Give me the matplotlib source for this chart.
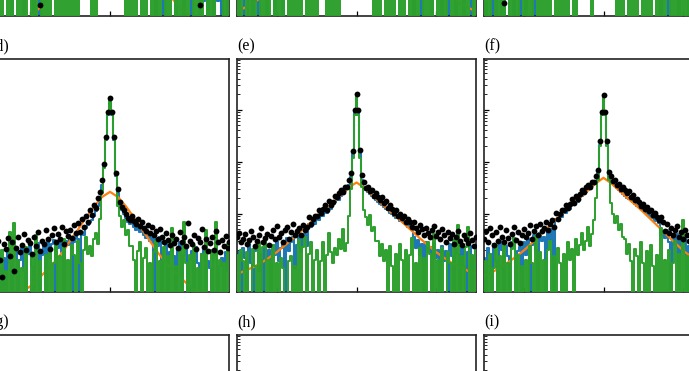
import numpy as np
import matplotlib
matplotlib.use('Agg')
import matplotlib.pyplot as plt
from matplotlib.ticker import LogLocator, NullFormatter, FixedLocator

plt.rcParams['font.family'] = ['Liberation Serif', 'DejaVu Serif']

# ---------------- data ----------------
N = 121
X = np.linspace(-1.5, 1.5, N)          # sample positions of the measured series
X_FIT = np.linspace(-1.5, 1.5, 31)     # sample positions of the fitted curve
X_TICKS = [-1, 0, 1]
YLIM = (0.31, 9500)

# panel labels; the top row's labels lie above the visible crop
LABELS = [[None, None, None], ['(d)', '(e)', '(f)'], ['(g)', '(h)', '(i)']]

# ---- panel (a) ----
A_DOTS = [1.4, 2.0, 1.1, 1.7, 2.4, 1.3, 1.9, 1.2, 2.2, 1.6,
          2.6, 1.5, 2.1, 1.8, 2.9, 1.4, 2.3, 2.7, 1.7, 3.0,
          2.0, 2.8, 3.3, 1.9, 2.5, 0.5, 3.1, 2.4, 3.6, 2.9,
          3.4, 4.0, 2.8, 3.7, 4.4, 3.2, 4.9, 4.1, 5.4, 4.6,
          6.0, 5.2, 6.8, 7.6, 6.4, 8.6, 10.0, 11.5, 13.5, 16.5,
          20, 24, 30, 38, 48, 62, 85, 140, 380, 950,
          1700,
          950, 380, 140, 85, 60, 46, 36, 28, 23, 19.0,
          15.5, 12.5, 10.5, 9.0, 7.6, 6.6, 5.8, 5.0, 4.4, 3.9,
          3.5, 4.2, 3.0, 3.7, 2.6, 3.3, 2.4, 2.9, 2.2, 2.7,
          2.0, 2.5, 1.8, 2.3, 1.6, 2.1, 1.5, 2.4, 1.7, 1.3,
          2.0, 1.6, 1.2, 1.9, 0.5, 1.5, 2.2, 1.4, 1.8, 1.1,
          1.7, 2.1, 1.3, 1.6, 1.0, 1.9, 1.4, 1.2, 1.8, 1.5]
A_BLUE = [1.2, 0.9, 1.6, 1.1, 0, 1.4, 1.8, 1.0, 1.5, 2.0,
          1.3, 0, 1.7, 2.2, 1.4, 1.9, 2.5, 0, 1.8, 2.1,
          2.7, 1.6, 0, 2.3, 2.9, 0, 2.6, 3.2, 2.1, 3.5,
          2.8, 3.8, 3.1, 4.2, 3.4, 4.6, 3.9, 5.0, 4.4, 5.6,
          5.0, 6.2, 5.6, 7.0, 6.4, 8.0, 9.0, 10.5, 12.5, 15.0,
          18.0, 22.0, 27.0, 34.0, 44.0, 58.0, 80.0, 130, 350, 900,
          1600,
          900, 350, 130, 78, 55, 42, 33, 26, 21, 17.0,
          14.0, 11.5, 9.5, 8.0, 6.8, 5.8, 5.0, 4.3, 3.7, 3.2,
          2.9, 2.5, 0, 2.1, 1.9, 1.6, 0, 1.4, 1.2, 1.3,
          1.0, 1.1, 0, 0.9, 1.2, 0.8, 0, 1.0, 0.7, 0.9,
          0, 0.8, 1.1, 0.7, 0, 0.9, 0.6, 1.0, 0, 0.8,
          0.7, 0, 0.9, 0.6, 0.8, 0, 1.0, 0.7, 0, 0.9]
A_GREEN = [0, 1.5, 0, 0, 2.0, 0, 1.2, 0, 0, 2.4,
           0, 1.8, 0, 0, 1.4, 0, 2.6, 0, 1.6, 0,
           0, 2.2, 0, 1.3, 0, 0, 1.9, 0, 2.8, 0,
           1.5, 0, 0, 2.3, 0, 1.7, 0, 3.0, 0, 1.4,
           0, 2.0, 0, 1.6, 0, 2.5, 3.2, 1.8, 2.7, 1.5,
           2.1, 0, 3.4, 0, 2.6, 4.0, 6.0, 20, 150, 700,
           1500,
           700, 150, 22, 7.0, 4.5, 3.2, 2.4, 0, 1.9, 0,
           2.5, 0, 1.4, 0, 0, 2.2, 0, 1.7, 0, 0,
           1.6, 0, 2.4, 0, 1.3, 0, 0, 2.0, 0, 1.5,
           0, 0, 2.7, 0, 1.8, 0, 1.2, 0, 2.3, 0,
           0, 1.6, 0, 2.0, 0, 1.4, 0, 0, 2.9, 0,
           1.5, 0, 2.2, 1.8, 2.6, 1.9, 0, 1.4, 0, 2.0]
A_FIT = [0.09, 0.11, 0.13, 0.17, 0.22, 0.30, 0.42, 0.62, 1.0, 1.7, 2.9, 5.0, 8.5, 14, 22, 30,
         22, 14, 8.5, 5.0, 2.9, 1.7, 1.0, 0.62, 0.42, 0.30, 0.22, 0.17, 0.13, 0.11, 0.09]

# ---- panel (b) ----
B_DOTS = [2.2, 1.6, 2.9, 1.9, 2.5, 1.4, 2.1, 3.0, 1.8, 2.6,
          1.7, 2.4, 3.2, 2.0, 2.8, 2.3, 3.5, 1.9, 2.7, 3.1,
          2.5, 3.8, 2.9, 3.3, 4.2, 2.7, 3.9, 3.4, 4.6, 3.7,
          4.3, 5.0, 3.9, 4.8, 5.6, 4.5, 6.2, 5.3, 6.8, 6.0,
          7.4, 6.6, 8.3, 9.4, 8.5, 10.5, 12.0, 13.5, 16.0, 19.0,
          23, 27, 33, 40, 50, 64, 88, 150, 400, 1000,
          1800,
          1000, 400, 150, 88, 62, 48, 39, 31, 26, 22,
          18.5, 15.5, 13.0, 11.0, 9.6, 8.4, 7.4, 6.6, 5.8, 5.2,
          4.7, 5.4, 4.0, 4.6, 3.6, 4.2, 3.2, 3.8, 2.9, 3.4,
          2.6, 3.1, 2.4, 2.9, 2.1, 2.7, 3.2, 2.0, 2.5, 1.8,
          2.3, 2.8, 1.7, 2.2, 1.9, 2.6, 1.6, 2.1, 2.4, 1.5,
          2.0, 1.7, 2.5, 1.4, 1.9, 2.2, 1.6, 1.8, 1.3, 2.1]
B_BLUE = [1.5, 0, 1.9, 1.2, 0, 0, 1.6, 2.1, 0, 1.4,
          1.8, 0, 2.3, 1.5, 2.0, 0, 1.7, 2.5, 1.3, 0,
          2.2, 1.9, 2.8, 0, 2.4, 3.0, 2.1, 2.7, 3.4, 2.6,
          3.2, 3.8, 2.9, 3.6, 4.3, 3.4, 4.8, 4.1, 5.4, 4.7,
          5.9, 5.3, 6.7, 7.5, 6.9, 8.6, 9.8, 11.0, 13.0, 15.5,
          19, 23, 28, 34, 43, 56, 78, 135, 370, 900,
          1650,
          900, 370, 135, 78, 54, 42, 33, 27, 22, 18.5,
          15.5, 13.0, 11.0, 9.4, 8.1, 7.1, 6.2, 5.5, 4.9, 4.3,
          3.9, 4.4, 3.3, 3.8, 2.9, 3.4, 2.6, 3.0, 0, 2.7,
          2.1, 2.5, 0, 2.2, 1.7, 2.0, 2.4, 0, 1.9, 1.5,
          1.8, 2.2, 0, 1.6, 1.4, 0, 1.3, 1.7, 1.9, 0,
          1.5, 1.2, 1.8, 0, 1.4, 1.6, 1.1, 0, 1.0, 1.3]
B_GREEN = [1.8, 0, 2.4, 0, 0, 1.5, 0, 2.1, 0, 1.3,
           0, 0, 2.6, 0, 1.7, 0, 2.0, 0, 0, 1.4,
           0, 2.3, 0, 1.6, 0, 0, 2.8, 0, 1.5, 0,
           2.2, 0, 1.4, 0, 0, 2.5, 0, 1.9, 0, 1.3,
           0, 2.4, 2.9, 1.7, 3.1, 0, 2.0, 0, 2.6, 0,
           1.8, 0, 3.3, 2.5, 4.2, 3.0, 6.5, 24, 160, 750,
           1600,
           750, 160, 26, 8.0, 4.6, 3.5, 5.0, 2.7, 0, 1.9,
           0, 2.4, 0, 0, 1.6, 0, 2.8, 0, 1.5, 0,
           0, 2.1, 0, 1.7, 0, 0, 2.5, 0, 1.4, 0,
           1.9, 0, 0, 2.6, 0, 1.5, 0, 2.2, 0, 0,
           1.8, 0, 2.4, 0, 1.3, 0, 0, 2.0, 0, 1.6,
           0, 2.7, 0, 1.4, 0, 2.1, 0, 0, 1.7, 0]
B_FIT = [0.38, 0.45, 0.55, 0.70, 0.92, 1.25, 1.75, 2.5, 3.6, 5.2, 7.4, 10.5, 15, 21, 30, 38,
         30, 21, 15, 10.5, 7.4, 5.2, 3.6, 2.5, 1.75, 1.25, 0.92, 0.70, 0.55, 0.45, 0.38]

# ---- panel (c) ----
C_DOTS = [2.4, 1.8, 3.0, 2.1, 2.7, 1.6, 2.3, 3.2, 1.9, 2.8,
          0.55, 2.5, 3.4, 2.2, 3.0, 2.6, 3.7, 2.1, 2.9, 3.3,
          2.7, 4.0, 3.1, 3.5, 4.4, 2.9, 4.1, 3.6, 4.8, 3.9,
          4.5, 5.2, 4.1, 5.0, 5.9, 4.7, 6.5, 5.6, 7.1, 6.3,
          7.8, 7.0, 8.8, 9.9, 9.0, 11.0, 12.5, 14.0, 17.0, 20,
          24, 28, 35, 42, 52, 67, 92, 155, 410, 1050,
          1900,
          1050, 410, 155, 92, 65, 50, 41, 33, 27, 23,
          19.5, 16.5, 14.0, 12.0, 10.2, 8.9, 7.8, 6.9, 6.1, 5.5,
          5.0, 5.6, 4.3, 4.9, 3.8, 4.4, 3.4, 4.0, 3.1, 3.6,
          2.8, 3.3, 2.6, 3.0, 2.3, 2.9, 3.4, 2.2, 2.7, 2.0,
          2.5, 3.0, 1.9, 2.4, 2.1, 2.8, 1.8, 2.3, 2.6, 1.7,
          2.2, 1.9, 2.7, 1.6, 2.1, 2.4, 1.8, 2.0, 1.5, 2.3]
C_BLUE = [1.6, 0, 2.0, 1.3, 0, 1.8, 0, 2.3, 1.5, 0,
          1.9, 0, 0, 1.7, 2.2, 0, 1.4, 2.6, 0, 1.8,
          2.4, 0, 2.9, 2.0, 2.6, 0, 2.3, 2.8, 3.5, 2.7,
          3.3, 3.9, 3.0, 3.7, 4.4, 3.5, 4.9, 4.2, 5.5, 4.8,
          6.0, 5.4, 6.8, 7.7, 7.0, 8.8, 10.0, 11.5, 13.5, 16.0,
          20, 24, 29, 35, 45, 58, 80, 140, 380, 950,
          1700,
          950, 380, 140, 80, 56, 43, 35, 28, 23, 19.5,
          16.5, 13.5, 11.5, 9.8, 8.4, 7.3, 6.4, 5.7, 5.0, 4.5,
          4.0, 4.6, 3.4, 3.9, 3.0, 3.5, 2.7, 3.1, 0, 2.8,
          2.2, 2.6, 0, 2.3, 1.8, 2.1, 2.5, 0, 2.0, 1.6,
          1.9, 2.3, 0, 1.7, 1.5, 0, 1.4, 1.8, 2.0, 0,
          1.6, 1.3, 1.9, 0, 1.5, 1.7, 1.2, 0, 1.1, 1.4]
C_GREEN = [0, 1.6, 0, 2.2, 0, 0, 1.4, 0, 2.5, 0,
           1.8, 0, 0, 2.0, 0, 1.5, 0, 2.7, 0, 0,
           1.3, 0, 2.3, 0, 1.7, 0, 0, 2.1, 0, 1.6,
           0, 2.6, 0, 1.4, 0, 0, 2.4, 0, 1.9, 0,
           1.5, 0, 2.2, 0, 0, 1.8, 0, 2.6, 3.0, 2.2,
           3.4, 2.0, 2.8, 2.4, 0, 4.5, 7.0, 26, 170, 780,
           1650,
           780, 170, 24, 9.0, 5.0, 3.6, 0, 2.3, 0, 1.7,
           0, 0, 2.5, 0, 1.5, 0, 2.0, 0, 0, 1.4,
           0, 2.6, 0, 1.8, 0, 0, 2.2, 0, 1.5, 0,
           2.4, 0, 0, 1.7, 0, 2.1, 0, 1.3, 0, 2.8,
           0, 1.6, 0, 0, 2.3, 0, 1.9, 0, 1.4, 0,
           2.0, 0, 0, 1.7, 0, 2.5, 0, 1.5, 0, 2.2]
C_FIT = [0.6, 0.7, 0.82, 1.0, 1.3, 1.75, 2.4, 3.4, 4.7, 6.6, 9.3, 13, 18, 25, 35, 45,
         35, 25, 18, 13, 9.3, 6.6, 4.7, 3.4, 2.4, 1.75, 1.3, 1.0, 0.82, 0.7, 0.6]

# ---- panel (d) ----
D_DOTS = [1.6, 2.4, 0.7, 1.9, 3.0, 1.3, 0.6, 2.6, 2.1, 3.4,
          1.5, 2.8, 0.8, 2.2, 3.6, 1.8, 2.5, 4.0, 2.0, 3.1,
          2.7, 1.7, 3.5, 2.4, 4.4, 1.9, 3.0, 2.6, 4.8, 3.3,
          2.1, 3.8, 5.2, 2.9, 4.1, 3.2, 5.5, 2.6, 4.6, 3.7,
          4.9, 3.4, 6.0, 4.2, 6.5, 4.4, 7.8, 5.6, 9.2, 7.0,
          11.5, 9.5, 14.5, 13.0, 20.0, 26.0, 45.0, 90, 300, 900,
          1700,
          900, 300, 60, 30, 17, 13.5, 11.5, 10.0, 8.2, 7.6,
          9.0, 7.2, 6.4, 7.8, 5.9, 6.8, 5.2, 4.7, 6.1, 4.3,
          5.5, 3.9, 4.6, 3.3, 5.0, 3.6, 2.9, 4.2, 3.1, 2.5,
          3.8, 2.7, 3.3, 2.2, 4.4, 2.9, 3.6, 2.4, 6.5, 3.0,
          2.6, 3.9, 2.1, 3.4, 2.8, 5.0, 2.3, 3.2, 1.9, 2.7,
          3.5, 2.0, 4.6, 2.8, 1.8, 3.1, 2.4, 3.7, 2.2, 2.9]
D_BLUE = [0, 1.2, 0.6, 0, 1.6, 0.9, 0, 1.4, 0, 1.9,
          1.1, 0, 1.5, 2.0, 0, 1.3, 2.2, 0.8, 0, 1.7,
          2.4, 1.0, 0, 1.9, 2.7, 0, 1.6, 2.3, 0, 2.9,
          1.4, 2.6, 3.1, 0, 2.2, 3.4, 1.8, 0, 3.0, 2.5,
          3.6, 0, 2.8, 4.0, 3.3, 0, 4.5, 3.8, 5.2, 6.0,
          6.8, 7.5, 9.0, 11.0, 14.0, 20.0, 36.0, 80, 260, 800,
          1500,
          800, 260, 52, 25, 15.0, 11.5, 9.8, 8.4, 7.0, 6.2,
          6.8, 5.5, 4.9, 5.9, 4.4, 5.0, 3.8, 3.4, 4.3, 3.0,
          3.9, 0, 3.2, 2.4, 3.5, 0, 2.1, 2.9, 0, 1.8,
          2.6, 1.5, 0, 2.0, 2.8, 0, 1.6, 2.2, 0, 1.3,
          1.9, 0, 2.3, 1.1, 0, 1.7, 2.0, 0, 1.2, 0.9,
          0, 1.6, 2.1, 0, 1.0, 1.4, 0, 1.8, 0.8, 0]
D_GREEN = [0, 1.0, 0, 1.5, 0, 0, 2.0, 0, 0.8, 0,
           4.4, 0, 6.5, 0, 1.3, 0, 0.9, 0, 2.3, 0,
           0, 1.7, 0, 3.8, 0, 1.2, 0, 0, 1.6, 0,
           2.1, 0, 1.1, 2.8, 0, 1.5, 0, 3.3, 0, 1.3,
           0, 2.5, 1.6, 0, 3.0, 1.1, 0, 2.0, 3.6, 1.7,
           2.4, 1.5, 3.2, 4.3, 2.6, 8.0, 25.0, 75, 280, 850,
           1600,
           850, 280, 55, 14, 9.0, 5.5, 7.5, 3.8, 4.8, 2.4,
           2.4, 1.3, 0, 1.9, 2.8, 0, 1.4, 2.2, 0, 1.1,
           0, 1.8, 3.0, 0, 1.2, 0, 2.3, 0, 1.5, 0,
           5.2, 0, 1.0, 0, 1.9, 0, 7.0, 1.1, 0, 1.6,
           0, 2.4, 0, 0.9, 0, 1.7, 0, 4.8, 0, 0,
           2.0, 0, 6.8, 0, 1.3, 0, 1.1, 0, 2.6, 0]
D_FIT = [0.17, 0.19, 0.22, 0.26, 0.32, 0.40, 0.56, 0.79, 1.15, 1.78, 3.0, 5.0, 8.5, 13.8, 20.9, 26.3,
         20.9, 13.8, 8.5, 5.0, 3.0, 1.78, 1.15, 0.79, 0.56, 0.40, 0.32, 0.26, 0.22, 0.19, 0.17]

# ---- panel (e) ----
E_DOTS = [3.6, 4.3, 2.9, 3.3, 4.0, 2.6, 3.1, 4.6, 3.5, 2.4,
          3.0, 3.9, 5.2, 2.8, 3.4, 4.1, 2.5, 3.7, 4.8, 3.2,
          5.8, 3.6, 4.2, 2.9, 4.9, 5.5, 3.3, 4.4, 6.2, 3.9,
          4.6, 5.3, 3.8, 6.0, 4.9, 5.6, 8.8, 6.4, 8.0, 9.0,
          9.2, 11.5, 10.2, 12.5, 14.5, 12.0, 17.5, 15.0, 17.0, 22.0,
          21.0, 25.0, 28.0, 26.0, 33.0, 32.0, 44.0, 60.0, 160, 1000,
          2000,
          1000, 170, 55, 40, 31, 33, 27, 29, 22, 25,
          21.0, 18.5, 20.5, 16.0, 17.5, 13.0, 14.5, 12.5, 10.5, 12.0,
          9.2, 10.0, 8.2, 9.0, 7.0, 8.0, 6.8, 5.6, 6.9, 5.2,
          4.5, 6.1, 5.0, 3.9, 5.4, 4.2, 3.5, 4.8, 5.9, 3.7,
          4.4, 3.2, 5.1, 3.8, 2.8, 4.5, 3.4, 4.0, 2.6, 3.6,
          4.7, 3.0, 2.5, 3.9, 3.3, 2.7, 4.2, 3.1, 2.4, 3.5]
E_BLUE = [0, 1.8, 0, 2.2, 1.4, 0, 2.6, 1.1, 0, 1.9,
          2.4, 0.8, 1.7, 0, 2.9, 1.3, 2.0, 0, 2.5, 1.6,
          3.0, 1.2, 2.2, 2.7, 0, 3.4, 1.9, 2.8, 3.6, 0.9,
          2.5, 3.9, 1.8, 3.2, 4.1, 2.4, 6.4, 5.5, 7.0, 6.2,
          8.4, 7.6, 9.6, 9.0, 11.5, 10.5, 13.5, 12.5, 15.5, 17.0,
          19.0, 18.5, 22.0, 24.0, 27.0, 30.0, 36.0, 50.0, 140, 850,
          1800,
          850, 150, 45, 32, 28, 26, 24, 22, 20, 18.5,
          17.0, 15.5, 14.5, 13.5, 12.2, 11.5, 10.5, 9.8, 9.0, 8.4,
          8.5, 7.3, 7.4, 6.5, 6.6, 5.6, 6.0, 5.0, 3.5, 2.2,
          3.1, 1.6, 2.6, 0, 2.9, 1.8, 2.3, 0, 2.7, 1.4,
          2.0, 0, 2.4, 1.2, 1.9, 0, 2.6, 1.5, 0, 2.1,
          1.7, 0, 2.2, 1.0, 0, 1.8, 2.4, 0, 1.5, 1.9]
E_GREEN = [1.6, 0, 2.0, 1.2, 0, 1.8, 0, 0, 2.1, 1.0,
           0, 2.7, 0, 2.3, 3.1, 0, 1.3, 0, 2.5, 0,
           1.1, 0, 1.4, 0.9, 0, 0, 1.2, 1.5, 0, 1.0,
           0, 3.1, 0, 2.3, 3.6, 0, 1.7, 2.8, 0, 1.3,
           2.0, 0, 1.2, 2.9, 0, 1.6, 4.2, 1.8, 1.1, 2.2,
           1.6, 3.3, 2.1, 5.0, 1.9, 2.7, 9.0, 30, 120, 800,
           1800,
           800, 120, 32, 12, 8.5, 6.0, 9.5, 4.6, 5.5, 3.0,
           3.0, 1.5, 2.6, 1.2, 2.0, 0, 2.4, 1.0, 0, 1.7,
           0, 2.6, 1.3, 0, 2.0, 0, 1.6, 3.4, 0, 1.1,
           0, 2.2, 0, 1.4, 0, 2.9, 1.7, 0, 4.0, 0,
           1.3, 0, 2.2, 0, 0, 1.8, 1.1, 0, 3.1, 0,
           6.0, 0, 1.5, 0, 2.3, 5.6, 0, 1.6, 0, 2.0]
E_FIT = [0.69, 0.79, 0.93, 1.12, 1.41, 1.82, 2.45, 3.3, 4.6, 6.3, 8.7, 11.7, 16.2, 22.4, 31.6, 39.8,
         31.6, 22.4, 16.2, 11.7, 8.7, 6.3, 4.6, 3.3, 2.45, 1.82, 1.41, 1.12, 0.93, 0.79, 0.69]

# ---- panel (f) ----
F_DOTS = [3.3, 4.6, 2.8, 5.2, 3.9, 2.5, 4.4, 3.0, 5.6, 3.6,
          2.9, 4.8, 3.4, 2.6, 4.1, 5.5, 3.1, 4.5, 2.7, 3.8,
          5.0, 3.5, 4.3, 6.0, 3.2, 4.7, 5.8, 3.9, 6.4, 4.6,
          5.4, 7.0, 4.8, 6.2, 7.6, 5.6, 10.5, 8.0, 10.0, 12.0,
          11.5, 14.5, 13.0, 15.5, 19.0, 16.0, 22.0, 19.5, 24.0, 28.0,
          26.0, 33.0, 35.0, 32.0, 41.0, 40.0, 52.0, 70, 250, 900,
          1950,
          900, 250, 62, 52, 42, 45, 36, 38, 30, 33,
          28.0, 25.0, 27.0, 21.0, 23.0, 18.5, 19.5, 16.5, 14.0, 15.5,
          12.5, 13.5, 11.0, 11.8, 9.5, 10.5, 8.6, 7.6, 8.8, 6.8,
          4.6, 6.3, 4.2, 5.2, 3.8, 4.9, 5.8, 3.6, 4.4, 3.3,
          4.8, 3.9, 3.0, 4.2, 3.5, 2.8, 4.0, 3.1, 2.6, 3.7,
          3.0, 2.5, 3.6, 2.9, 2.3, 3.2, 2.7, 3.4, 2.2, 2.8]
F_BLUE = [1.4, 0, 2.2, 1.7, 0, 2.6, 1.2, 0, 3.0, 2.0,
          0, 2.4, 1.5, 0, 2.9, 3.4, 0, 1.9, 2.3, 0,
          2.8, 1.6, 3.3, 0, 2.5, 3.8, 2.0, 0, 4.2, 3.0,
          3.6, 0, 4.4, 3.1, 5.0, 0, 8.0, 7.2, 9.2, 8.5,
          11.0, 10.2, 12.8, 12.3, 15.3, 14.5, 18.0, 17.0, 21.0, 22.0,
          25.0, 26.0, 29.0, 31.0, 34.0, 37.0, 43.0, 60, 210, 800,
          1800,
          800, 210, 54, 43, 38, 34, 31, 28, 26, 24,
          22.0, 20.0, 19.0, 18.0, 16.5, 15.3, 14.0, 13.2, 12.3, 11.5,
          11.0, 9.8, 9.4, 8.5, 8.2, 7.3, 7.5, 6.5, 3.8, 4.5,
          3.4, 4.8, 2.9, 0, 3.6, 2.6, 4.1, 0, 3.0, 2.2,
          3.5, 0, 2.4, 3.0, 0, 1.9, 2.7, 0, 1.6, 2.3,
          0, 1.8, 2.5, 0, 1.4, 2.0, 0, 2.2, 1.2, 0]
F_GREEN = [0, 1.2, 0, 1.7, 0, 0.9, 2.5, 0, 1.5, 0,
           2.6, 0, 1.1, 0, 2.1, 3.4, 0, 1.6, 0, 1.0,
           0, 1.3, 0, 2.4, 1.1, 0, 3.7, 0, 1.8, 0,
           1.3, 0, 2.0, 3.0, 0, 1.5, 0, 2.2, 1.1, 0,
           1.7, 0, 2.8, 1.3, 2.1, 0, 3.3, 1.6, 2.5, 4.3,
           2.0, 3.0, 5.6, 2.4, 4.0, 7.5, 20.0, 45, 200, 800,
           1750,
           800, 200, 45, 16, 10.0, 6.5, 9.0, 4.8, 6.2, 3.5,
           3.3, 1.7, 2.6, 1.2, 0, 2.1, 1.5, 0, 2.9, 1.1,
           0, 1.9, 0, 2.5, 1.0, 0, 1.6, 0, 5.4, 0,
           1.3, 0, 2.0, 0, 1.1, 3.0, 0, 1.7, 0, 7.5,
           0, 1.5, 0, 1.1, 2.0, 0, 1.3, 0, 2.8, 0,
           1.2, 0, 1.7, 0, 2.2, 0, 1.0, 0, 1.6, 0]
F_FIT = [0.62, 0.74, 0.91, 1.15, 1.48, 1.95, 2.7, 3.8, 5.4, 7.6, 10.7, 14.8, 20, 27.5, 38, 49,
         38, 27.5, 20, 14.8, 10.7, 7.6, 5.4, 3.8, 2.7, 1.95, 1.48, 1.15, 0.91, 0.74, 0.62]

PANEL_DATA = [
    [(A_DOTS, A_BLUE, A_GREEN, A_FIT), (B_DOTS, B_BLUE, B_GREEN, B_FIT), (C_DOTS, C_BLUE, C_GREEN, C_FIT)],
    [(D_DOTS, D_BLUE, D_GREEN, D_FIT), (E_DOTS, E_BLUE, E_GREEN, E_FIT), (F_DOTS, F_BLUE, F_GREEN, F_FIT)],
    [None, None, None],
]

# ---------------- layout ----------------
FIG_W, FIG_H = 689, 371
COL_LEFT_PX = [-9.5, 237, 484]
ROW_BOTTOM_PX = [16, 292, 568]
AX_W_PX, AX_H_PX = 239, 233

C_BLUE_LINE = '#1f77b4'
C_ORANGE = '#ff7f0e'
C_GREEN_LINE = '#2ca02c'

fig = plt.figure(figsize=(FIG_W / 100, FIG_H / 100), dpi=100)

for r in range(3):
    for c in range(3):
        left = COL_LEFT_PX[c] / FIG_W
        bottom = (FIG_H - ROW_BOTTOM_PX[r]) / FIG_H
        ax = fig.add_axes([left, bottom, AX_W_PX / FIG_W, AX_H_PX / FIG_H])
        ax.set_yscale('log')
        ax.set_xlim(-1.5, 1.5)
        ax.set_ylim(*YLIM)
        data = PANEL_DATA[r][c]
        if data is not None:
            dots, blue, green, fit = data
            assert len(dots) == N and len(blue) == N and len(green) == N and len(fit) == 31
            ax.plot(X, np.array(blue, float), color=C_BLUE_LINE, lw=1.5,
                    drawstyle='steps-mid', zorder=2)
            ax.plot(X_FIT, np.array(fit, float), color=C_ORANGE, lw=1.6, zorder=3)
            ax.plot(X, np.array(green, float), color=C_GREEN_LINE, lw=1.4,
                    drawstyle='steps-mid', zorder=4)
            ax.plot(X, np.array(dots, float), 'o', color='black', ms=4.2,
                    mew=0, zorder=5)
        ax.xaxis.set_major_locator(FixedLocator(X_TICKS))
        ax.yaxis.set_major_locator(LogLocator(base=10, numticks=20))
        ax.yaxis.set_minor_locator(LogLocator(base=10, subs=np.arange(2, 10), numticks=20))
        ax.yaxis.set_minor_formatter(NullFormatter())
        ax.tick_params(axis='both', which='both', direction='in', top=False, right=False,
                       labelleft=False, labelbottom=False, color='black')
        ax.tick_params(which='major', length=3.5, width=0.9)
        ax.tick_params(which='minor', length=1.8, width=0.6)
        for sp in ax.spines.values():
            sp.set_linewidth(1.2)
            sp.set_color('#222222')
        if LABELS[r][c]:
            ax.text(0.0, 1 + 13 / AX_H_PX, LABELS[r][c], transform=ax.transAxes,
                    ha='left', va='center', fontsize=11.5, clip_on=False)

fig.savefig('out.png', dpi=100)
